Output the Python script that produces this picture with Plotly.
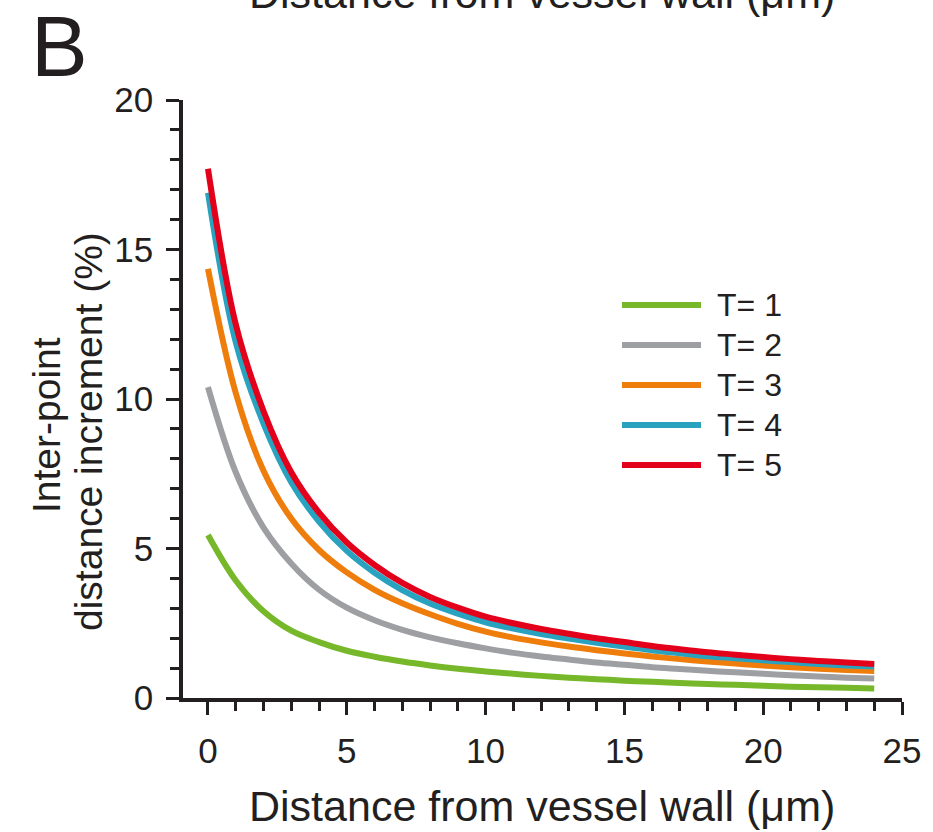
import plotly.graph_objects as go

# ---------------- data ----------------
x_um = list(range(0, 25))

t1 = [5.45, 3.93, 2.90, 2.25, 1.87, 1.58, 1.38, 1.22, 1.09, 0.98, 0.89, 0.81, 0.74,
      0.68, 0.63, 0.58, 0.54, 0.50, 0.47, 0.44, 0.41, 0.38, 0.36, 0.34, 0.32]
t2 = [10.40, 7.55, 5.70, 4.50, 3.62, 3.02, 2.60, 2.28, 2.03, 1.83, 1.66, 1.51, 1.39,
      1.29, 1.19, 1.11, 1.03, 0.97, 0.91, 0.86, 0.81, 0.76, 0.72, 0.68, 0.65]
t3 = [14.35, 10.20, 7.60, 6.00, 4.95, 4.20, 3.62, 3.17, 2.80, 2.48, 2.22, 2.02, 1.86,
      1.72, 1.60, 1.49, 1.39, 1.30, 1.22, 1.15, 1.09, 1.03, 0.98, 0.94, 0.90]
t4 = [16.90, 11.90, 9.18, 7.22, 5.90, 4.92, 4.19, 3.61, 3.16, 2.82, 2.53, 2.32, 2.14,
      1.99, 1.85, 1.72, 1.60, 1.50, 1.40, 1.33, 1.26, 1.20, 1.14, 1.09, 1.05]
t5 = [17.70, 12.50, 9.60, 7.55, 6.20, 5.20, 4.45, 3.85, 3.38, 3.02, 2.72, 2.50, 2.31,
      2.15, 2.00, 1.87, 1.74, 1.63, 1.53, 1.45, 1.37, 1.30, 1.24, 1.19, 1.14]

series_names = ["T= 1", "T= 2", "T= 3", "T= 4", "T= 5"]
series_values = [t1, t2, t3, t4, t5]
series_colors = ["#76b82a", "#9d9fa2", "#ef7d0b", "#28a2be", "#e3001b"]

x_tick_vals = [0, 5, 10, 15, 20, 25]
y_tick_vals = [0, 5, 10, 15, 20]

x_title = "Distance from vessel wall (\u03bcm)"
y_title_1 = "Inter-point"
y_title_2 = "distance increment (%)"
panel_label = "B"

# ---------------- layout geometry ----------------
W, H = 933, 832
ML, MR, MT, MB = 183, 31, 100, 134
PW = W - ML - MR
PH = H - MT - MB
INK = "#231f20"
FONT = "Liberation Sans, Arial, Helvetica, sans-serif"


def px_x(px):
    return (px - ML) / PW


def px_y(py):
    return (H - MB - py) / PH


fig = go.Figure()

for name, vals, col in zip(series_names, series_values, series_colors):
    fig.add_trace(go.Scatter(
        x=x_um, y=vals, mode="lines", name=name,
        line=dict(color=col, width=6, shape="spline", smoothing=1.0),
        showlegend=False, hoverinfo="skip",
    ))

# custom legend (long line samples like the reference)
leg_x0, leg_x1, leg_text_x = 622, 701, 715
leg_y0, leg_dy = 305, 40
shapes = []
annotations = []
for i, (name, col) in enumerate(zip(series_names, series_colors)):
    yy = px_y(leg_y0 + i * leg_dy)
    shapes.append(dict(type="line", xref="paper", yref="paper",
                       x0=px_x(leg_x0), x1=px_x(leg_x1), y0=yy, y1=yy,
                       line=dict(color=col, width=6)))
    annotations.append(dict(text=name, xref="paper", yref="paper",
                            x=px_x(leg_text_x), y=yy, xanchor="left", yanchor="middle",
                            showarrow=False, font=dict(size=32, color=INK, family=FONT)))

x_title_font = dict(size=43, color=INK, family=FONT)
y_title_font = dict(size=39, color=INK, family=FONT)
# x-axis title
annotations.append(dict(text=x_title, xref="paper", yref="paper",
                        x=px_x(542), y=px_y(806), xanchor="center", yanchor="middle",
                        showarrow=False, font=x_title_font))
# cut-off title from the panel above
annotations.append(dict(text=x_title, xref="paper", yref="paper",
                        x=px_x(542), y=px_y(806 - 813), xanchor="center", yanchor="middle",
                        showarrow=False, font=x_title_font))
# y-axis title (two lines)
annotations.append(dict(text=y_title_1, xref="paper", yref="paper",
                        x=px_x(46), y=px_y(425), xanchor="center", yanchor="middle",
                        textangle=-90, showarrow=False, font=y_title_font))
annotations.append(dict(text=y_title_2, xref="paper", yref="paper",
                        x=px_x(88), y=px_y(432), xanchor="center", yanchor="middle",
                        textangle=-90, showarrow=False, font=y_title_font))
# panel label
annotations.append(dict(text=panel_label, xref="paper", yref="paper",
                        x=px_x(59), y=px_y(46), xanchor="center", yanchor="middle",
                        showarrow=False, font=dict(size=85, color=INK, family=FONT)))

axis_common = dict(
    showline=True, linecolor=INK, linewidth=3.5, mirror=False,
    showgrid=False, zeroline=False,
    ticks="outside", ticklen=13, tickwidth=3, tickcolor=INK,
    tickfont=dict(size=35, color=INK, family=FONT),
)

fig.update_layout(
    width=W, height=H,
    margin=dict(l=ML, r=MR, t=MT, b=MB, pad=0),
    paper_bgcolor="white", plot_bgcolor="white",
    showlegend=False,
    shapes=shapes, annotations=annotations,
    xaxis=dict(range=[-0.9, 25], tickvals=x_tick_vals, ticklabelstandoff=6,
               minor=dict(dtick=1, tick0=0, ticks="outside", ticklen=9, tickwidth=2.5, tickcolor=INK),
               **axis_common),
    yaxis=dict(range=[0, 20], tickvals=y_tick_vals, ticklabelstandoff=6,
               minor=dict(dtick=1, tick0=0, ticks="outside", ticklen=9, tickwidth=2.5, tickcolor=INK),
               **axis_common),
)

fig.write_html("out.html")
